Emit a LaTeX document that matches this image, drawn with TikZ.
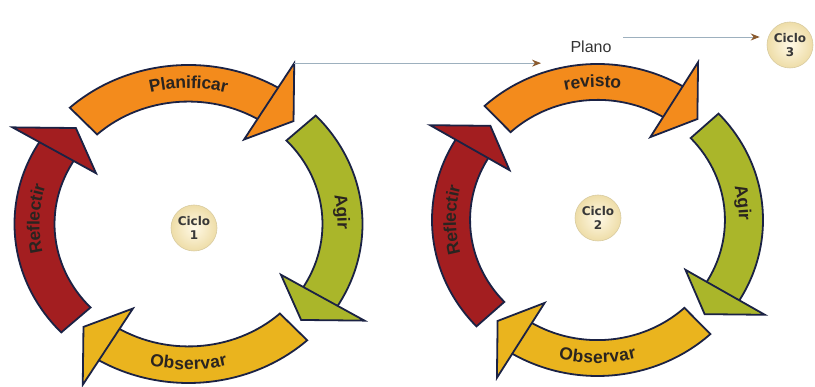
\documentclass[tikz,border=0pt]{standalone}
\usepackage{fontspec}
\setmainfont{Liberation Sans}
\newfontfamily\cicfont{DejaVu Sans}
\usetikzlibrary{decorations.text,arrows.meta,calc}
\definecolor{cOrange}{HTML}{F38B1C}
\definecolor{cGreen}{HTML}{AAB62A}
\definecolor{cYellow}{HTML}{EAB41E}
\definecolor{cRed}{HTML}{A31E20}
\definecolor{cLine}{HTML}{1B2244}
\definecolor{cTxt}{HTML}{2A2420}
\definecolor{cCreamA}{HTML}{FFF9E6}
\definecolor{cCreamB}{HTML}{EEDDA8}
\definecolor{cCreamC}{HTML}{D8CBA0}
\definecolor{cConn}{HTML}{9DB0BE}
\definecolor{cTip}{HTML}{8A5A2E}
\newcommand\lblfont{\bfseries\fontsize{17.5}{18}\selectfont}
% #1 tail angle, #2 base angle, #3 tip angle, #4 fill, #5 rx, #6 ry
\newcommand\ringarrow[6]{%
  \pgfmathsetmacro\ox{#5}\pgfmathsetmacro\oy{#6}%
  \pgfmathsetmacro\ix{0.77*#5}\pgfmathsetmacro\iy{0.77*#6}%
  \pgfmathsetmacro\bx{1.18*#5}\pgfmathsetmacro\by{1.18*#6}%
  \pgfmathsetmacro\jx{0.62*#5}\pgfmathsetmacro\jy{0.62*#6}%
  \pgfmathsetmacro\mx{0.885*#5}\pgfmathsetmacro\my{0.885*#6}%
  \pgfmathsetmacro\ea{#2-4}%
  \filldraw[ringsty, fill=#4] (#1:{\ox} and {\oy})
    arc[start angle=#1, end angle=\ea, x radius=\ox, y radius=\oy]
    -- (\ea:{\ix} and {\iy})
    arc[start angle=\ea, end angle=#1, x radius=\ix, y radius=\iy] -- cycle;
  \filldraw[ringsty, fill=#4] (#2:{\bx} and {\by}) -- (#3:{\mx} and {\my})
    -- (#2:{\jx} and {\jy}) -- cycle;}
% #1 start angle, #2 end angle, #3 text, #4 rx, #5 ry
\newcommand\ringtext[5]{%
  \pgfmathsetmacro\tx{0.885*#4}\pgfmathsetmacro\ty{0.885*#5}%
  \path[decorate, decoration={text along path, text align=center,
      raise=-5pt, text color=cTxt, text={|\lblfont|#3}}]
    (#1:{\tx} and {\ty}) arc[start angle=#1, end angle=#2, x radius=\tx, y radius=\ty];}
\tikzset{
  ringsty/.style={draw=cLine, line width=1.8pt, line join=miter},
  ciclo/.style={circle, minimum size=46pt, inner sep=0pt, inner color=cCreamA,
    outer color=cCreamB, draw=cCreamC, line width=0.6pt, align=center,
    text=black!78, font=\cicfont\bfseries\fontsize{12}{13.5}\selectfont},
  conn/.style={draw=cConn, line width=0.9pt, -{Stealth[length=9pt,width=7pt,color=cTip]}},
}
\begin{document}
\begin{tikzpicture}[x=1pt,y=1pt]
\useasboundingbox (0,0) rectangle (815,387);
\coordinate (c1) at (188.5,163);
\coordinate (c2) at (597.5,167);
% cycle 1
\begin{scope}[shift={(c1)}]
  \ringarrow{133}{59}{47}{cOrange}{174}{159}
  \ringarrow{43}{-31}{-43}{cGreen}{174}{159}
  \ringarrow{-47}{-121}{-133}{cYellow}{174}{159}
  \ringarrow{-137}{-211}{-223}{cRed}{174}{159}
  \ringtext{118}{62}{Planificar}{174}{159}
  \ringtext{30}{-20}{Agir}{174}{159}
  \ringtext{-125}{-55}{Observar}{174}{159}
  \ringtext{212}{144}{Reflectir}{174}{159}
  \coordinate (ls) at (59:{1.18*174} and {1.18*159});
\end{scope}
% cycle 2
\begin{scope}[shift={(c2)}]
  \ringarrow{133}{59}{47}{cOrange}{165.5}{156}
  \ringarrow{43}{-31}{-43}{cGreen}{165.5}{156}
  \ringarrow{-47}{-121}{-133}{cYellow}{165.5}{156}
  \ringarrow{-137}{-211}{-223}{cRed}{165.5}{156}
  \ringtext{118}{66}{revisto}{165.5}{156}
  \ringtext{32}{-18}{Agir}{165.5}{156}
  \ringtext{-125}{-55}{Observar}{165.5}{156}
  \ringtext{213}{147}{Reflectir}{165.5}{156}
\end{scope}
% centre nodes
\node[ciclo] (cy1) at (194,159) {Ciclo\\1};
\node[ciclo] (cy2) at (598,169) {Ciclo\\2};
\node[ciclo] (cy3) at (790,342) {Ciclo\\3};
\node[font=\fontsize{16}{18}\selectfont, text=black!80] (plano) at (591,340) {Plano};
% connectors
\coordinate (le) at (541,324);
\draw[conn] (ls) -- (ls -| le);
\coordinate (ps) at (623,350);
\draw[conn, shorten >=7pt] (ps) -- (ps -| cy3.west);
\end{tikzpicture}
\end{document}
